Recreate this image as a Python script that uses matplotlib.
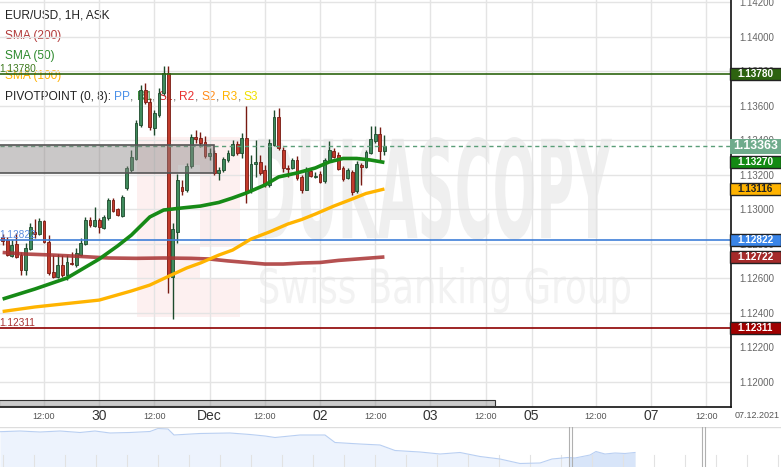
"""EUR/USD 1H candles with SMA(50/100/200), pivot points and navigator."""

import matplotlib

matplotlib.use("Agg")
import matplotlib.pyplot as plt
from matplotlib.font_manager import FontProperties
from matplotlib.patches import PathPatch, Rectangle
from matplotlib.textpath import TextPath
from matplotlib.transforms import Affine2D, blended_transform_factory

plt.rcParams["font.family"] = ["Liberation Sans", "DejaVu Sans"]

# ---------------------------------------------------------------- data
# x = hours since 29 Nov 00:00
hours = list(range(3, 87))
opens = [
    1.12838, 1.12820, 1.12728, 1.12797, 1.12733, 1.12646, 1.12768, 1.12867, 1.12855, 1.12930,
    1.12809, 1.12635, 1.12606, 1.12676, 1.12618, 1.12687, 1.12676, 1.12733, 1.12797, 1.12936,
    1.12901, 1.12936, 1.12890, 1.12948, 1.13052, 1.13000, 1.12959, 1.13122, 1.13226, 1.13290,
    1.13487, 1.13690, 1.13620, 1.13470, 1.13545, 1.13673, 1.13788, 1.12606, 1.12867, 1.13128,
    1.13110, 1.13249, 1.13417, 1.13412, 1.13388, 1.13307, 1.13325, 1.13209, 1.13226, 1.13284,
    1.13313, 1.13377, 1.13325, 1.13412, 1.13110, 1.13261, 1.13273, 1.13226, 1.13139, 1.13371,
    1.13533, 1.13342, 1.13238, 1.13238, 1.13284, 1.13186, 1.13110, 1.13220, 1.13186, 1.13203,
    1.13162, 1.13284, 1.13336, 1.13313, 1.13238, 1.13180, 1.13215, 1.13104, 1.13255, 1.13243,
    1.13325, 1.13394, 1.13435, 1.13336,
]
highs = [
    1.12855, 1.12838, 1.12820, 1.12861, 1.12751, 1.12803, 1.12919, 1.12942, 1.12948, 1.12936,
    1.12849, 1.12733, 1.12739, 1.12733, 1.12733, 1.12751, 1.12774, 1.12832, 1.12954, 1.12954,
    1.13012, 1.12948, 1.12965, 1.13064, 1.13064, 1.13006, 1.13081, 1.13249, 1.13342, 1.13516,
    1.13719, 1.13730, 1.13644, 1.13574, 1.13701, 1.13829, 1.13829, 1.12919, 1.13203, 1.13168,
    1.13267, 1.13435, 1.13458, 1.13446, 1.13423, 1.13354, 1.13342, 1.13243, 1.13301, 1.13342,
    1.13400, 1.13394, 1.13441, 1.13597, 1.13313, 1.13400, 1.13313, 1.13255, 1.13406, 1.13574,
    1.13586, 1.13359, 1.13255, 1.13296, 1.13307, 1.13197, 1.13243, 1.13238, 1.13215, 1.13220,
    1.13296, 1.13394, 1.13354, 1.13330, 1.13249, 1.13238, 1.13226, 1.13278, 1.13267, 1.13342,
    1.13481, 1.13481, 1.13475, 1.13429,
]
lows = [
    1.12791, 1.12728, 1.12722, 1.12716, 1.12618, 1.12618, 1.12762, 1.12832, 1.12849, 1.12803,
    1.12618, 1.12600, 1.12600, 1.12606, 1.12588, 1.12676, 1.12664, 1.12728, 1.12791, 1.12896,
    1.12896, 1.12861, 1.12884, 1.12936, 1.12983, 1.12959, 1.12954, 1.13110, 1.13215, 1.13284,
    1.13475, 1.13609, 1.13458, 1.13429, 1.13533, 1.13661, 1.12513, 1.12362, 1.12803, 1.13081,
    1.13098, 1.13238, 1.13383, 1.13359, 1.13296, 1.13284, 1.13197, 1.13168, 1.13215, 1.13273,
    1.13307, 1.13313, 1.13296, 1.13035, 1.13093, 1.13186, 1.13197, 1.13128, 1.13128, 1.13365,
    1.13342, 1.13215, 1.13186, 1.13232, 1.13168, 1.13093, 1.13110, 1.13186, 1.13180, 1.13151,
    1.13151, 1.13273, 1.13296, 1.13226, 1.13162, 1.13174, 1.13081, 1.13093, 1.13139, 1.13238,
    1.13319, 1.13383, 1.13284, 1.13313,
]
closes = [
    1.12815, 1.12733, 1.12791, 1.12722, 1.12646, 1.12774, 1.12896, 1.12855, 1.12930, 1.12809,
    1.12629, 1.12606, 1.12676, 1.12618, 1.12693, 1.12681, 1.12745, 1.12803, 1.12936, 1.12907,
    1.12936, 1.12896, 1.12954, 1.13052, 1.12988, 1.12965, 1.13069, 1.13238, 1.13301, 1.13499,
    1.13690, 1.13620, 1.13475, 1.13557, 1.13673, 1.13788, 1.12612, 1.12884, 1.13168, 1.13104,
    1.13249, 1.13417, 1.13406, 1.13383, 1.13307, 1.13325, 1.13209, 1.13226, 1.13290, 1.13325,
    1.13377, 1.13325, 1.13412, 1.13098, 1.13261, 1.13273, 1.13209, 1.13139, 1.13383, 1.13533,
    1.13354, 1.13238, 1.13232, 1.13284, 1.13180, 1.13110, 1.13226, 1.13191, 1.13191, 1.13157,
    1.13284, 1.13342, 1.13301, 1.13232, 1.13174, 1.13226, 1.13098, 1.13261, 1.13246, 1.13330,
    1.13406, 1.13435, 1.13336, 1.13363,
]

sma50_h = [3, 10, 17, 24, 28, 31, 35, 38, 42, 46, 50, 53, 56, 60, 63, 67, 71, 74, 77, 80, 83, 86]
sma50 = [1.12478, 1.12536, 1.12600, 1.12710, 1.12786, 1.12849, 1.12954, 1.12994, 1.13006,
         1.13017, 1.13038, 1.13064, 1.13093, 1.13139, 1.13186, 1.13209, 1.13238, 1.13273,
         1.13293, 1.13293, 1.13284, 1.13270]
sma100_h = [3, 10, 17, 24, 31, 35, 39, 43, 46, 50, 53, 57, 61, 65, 68, 71, 75, 79, 82, 86]
sma100 = [1.12406, 1.12432, 1.12452, 1.12472, 1.12525, 1.12559, 1.12609, 1.12658, 1.12687,
          1.12733, 1.12762, 1.12826, 1.12867, 1.12913, 1.12939, 1.12971, 1.13017, 1.13058,
          1.13090, 1.13116]
sma200_h = [3, 8, 14, 20, 26, 32, 38, 44, 48, 52, 56, 60, 64, 68, 72, 76, 80, 83, 86]
sma200 = [1.12748, 1.12739, 1.12733, 1.12725, 1.12716, 1.12714, 1.12716, 1.12714, 1.12710,
          1.12699, 1.12690, 1.12681, 1.12681, 1.12687, 1.12690, 1.12702, 1.12710, 1.12716,
          1.12722]

pivot_r1 = 1.13780
pivot_pp = 1.12822
pivot_s1 = 1.12311
last_price = 1.13363
zone_top, zone_bottom, zone_end = 1.13373, 1.13211, 49.0

y_ticks = [1.120, 1.122, 1.124, 1.126, 1.128, 1.130, 1.132, 1.134, 1.136, 1.138, 1.140, 1.142]
x_tick_hours = [12, 24, 36, 48, 60, 72, 84, 96, 108, 118, 132, 144, 156]
x_tick_labels = ["12:00", "30", "12:00", "Dec", "12:00", "02", "12:00", "03", "12:00",
                 "05", "12:00", "07", "12:00"]

# navigator: long history of closes
nav_t = [0, 20, 40, 60, 80, 95, 110, 130, 150, 158, 168, 174, 200, 230, 250, 265, 275, 300,
         325, 335, 360, 380, 395, 420, 440, 460, 480, 500, 520, 540, 552, 568, 575, 590, 596,
         605, 615, 625, 635]
nav_close = [1.15860, 1.15940, 1.15825, 1.15940, 1.15768, 1.15940, 1.15710, 1.15768, 1.15883,
             1.16228, 1.16170, 1.15480, 1.15653, 1.15710, 1.15538, 1.15365, 1.15193, 1.15480,
             1.15480, 1.14618, 1.14445, 1.14330, 1.13698, 1.13525, 1.13295, 1.13468, 1.13008,
             1.12720, 1.12203, 1.12260, 1.12720, 1.12893, 1.12835, 1.13180, 1.13583, 1.13295,
             1.13410, 1.13353, 1.13468]

# ---------------------------------------------------------------- layout
W, H = 781, 467
AX_W, AX_H = 731, 406.7
X0, PX_PER_H = 2.43, 4.6
Y_TOP = 1.142116
Y_PER_PX = 0.00005797

GREEN_BODY, GREEN_EDGE = "#3f8a5c", "#1d4a2c"
RED_BODY, RED_EDGE = "#c23b2c", "#781a12"

fig = plt.figure(figsize=(W / 100, H / 100), dpi=100)

# underlay for watermark and legend (pixel coordinates, y downwards)
bg = fig.add_axes([0, 0, 1, 1], zorder=0)
bg.set_xlim(0, W)
bg.set_ylim(H, 0)
bg.axis("off")


def fitted_text(axis, s, x0, y0, x1, y1, color, weight="bold"):
    fp = FontProperties(family="DejaVu Sans", weight=weight)
    tp = TextPath((0, 0), s, size=100, prop=fp)
    bb = tp.get_extents()
    tr = (Affine2D().translate(-bb.x0, -bb.y0)
          .scale((x1 - x0) / bb.width, -(y1 - y0) / bb.height)
          .translate(x0, y1))
    axis.add_patch(PathPatch(tr.transform_path(tp), fc=color, ec="none"))


bg.add_patch(Rectangle((137, 137), 103, 180, fc="#fdf0f0", ec="none"))
bg.add_patch(Rectangle((178, 165), 22, 80, fc="white", ec="none"))
bg.add_patch(Rectangle((200, 247), 40, 32, fc="white", ec="none"))
fitted_text(bg, "DUKASCOPY", 258, 137, 612, 240, "#efefef")
fitted_text(bg, "Swiss Banking Group", 260, 267, 630, 313, "#f2f2f2", weight="normal")

legend_rows = [
    (19, [("EUR/USD, 1H, ASK", "#222")]),
    (39, [("SMA (200)", "#b23a3a")]),
    (59, [("SMA (50)", "#2d8a2d")]),
    (79.5, [("SMA (100)", "#ffb000")]),
    (100, [("PIVOTPOINT (0, 8): ", "#222"), ("PP", "#4a90e8"), (", ", "#666"),
           ("R1", "#3c8c3c"), (", ", "#666"), ("S1", "#cc2222"), (", ", "#666"),
           ("R2", "#e83030"), (", ", "#666"), ("S2", "#ff8c1a"), (", ", "#666"),
           ("R3", "#ffb400"), (", ", "#666"), ("S3", "#f0e000")]),
]
renderer = fig.canvas.get_renderer()
for ybase, pieces in legend_rows:
    x = 5
    for s, col in pieces:
        t = bg.text(x, ybase, s, ha="left", va="baseline", fontsize=8.6, color=col)
        x += t.get_window_extent(renderer).width

# main price axes
ax = fig.add_axes([0, (H - AX_H) / H, AX_W / W, AX_H / H], zorder=1)
ax.patch.set_alpha(0)
ax.set_xlim(X0, X0 + AX_W / PX_PER_H)
ax.set_ylim(Y_TOP - AX_H * Y_PER_PX, Y_TOP)
ax.set_axisbelow(True)
ax.grid(True, color="#e4e4e4", lw=1)
ax.set_xticks(x_tick_hours)
ax.set_xticklabels([])
ax.set_yticks(y_ticks)
ax.set_yticklabels([f"{v:.5f}" for v in y_ticks])
ax.yaxis.tick_right()
ax.tick_params(axis="both", length=0)
ax.tick_params(axis="y", labelsize=7, labelcolor="#666", pad=6)
for side in ("left", "top"):
    ax.spines[side].set_visible(False)
for side in ("right", "bottom"):
    ax.spines[side].set_color("#111")
    ax.spines[side].set_linewidth(1.2)

# candles
ups = [c >= o for o, c in zip(opens, closes)]
edge_cols = [GREEN_EDGE if u else RED_EDGE for u in ups]
body_cols = [GREEN_BODY if u else RED_BODY for u in ups]
ax.vlines(hours, lows, highs, colors=edge_cols, lw=1, zorder=2)
ax.bar(hours, [max(abs(c - o), 0.00002) for o, c in zip(opens, closes)],
       bottom=[min(o, c) for o, c in zip(opens, closes)], width=0.62,
       color=body_cols, edgecolor=edge_cols, lw=0.6, zorder=2.2)

# moving averages
ax.plot(sma200_h, sma200, color="#a83232", lw=2.6, alpha=0.85, zorder=3,
        solid_capstyle="butt")
ax.plot(sma100_h, sma100, color="#ffb400", lw=2.4, zorder=3, solid_capstyle="butt")
ax.plot(sma50_h, sma50, color="#168a16", lw=2.6, zorder=3, solid_capstyle="butt")

# pivot levels and last price
ax.axhline(pivot_r1, color="#2e6510", lw=1.2, zorder=2.5)
ax.axhline(pivot_pp, color="#3f7fd8", lw=1.2, zorder=2.5)
ax.axhline(pivot_s1, color="#8e0000", lw=1.2, zorder=2.5)
ax.axhline(last_price, color="#5a9e78", lw=1, ls=(0, (3, 2.5)), zorder=2.5)

# grey zone
ax.add_patch(Rectangle((X0 - 2, zone_bottom), zone_end - X0 + 2, zone_top - zone_bottom,
                       fc=(0.54, 0.52, 0.52, 0.45), ec="#555", lw=1.2, zorder=2.6))

# price labels on the right axis
blend = blended_transform_factory(ax.transAxes, ax.transData)
price_tags = [
    (pivot_r1, "#2d6310", "white", 12, 7.2),
    (last_price, "#6fab8c", "white", 15, 8.8),
    (sma50[-1], "#138a13", "white", 12, 7.2),
    (sma100[-1], "#ffb300", "#222", 12, 7.2),
    (pivot_pp, "#3a85e8", "white", 12, 7.2),
    (sma200[-1], "#a52a2a", "white", 12, 7.2),
    (pivot_s1, "#a00000", "white", 12, 7.2),
]
for val, fc, tc, hpx, fs in price_tags:
    ec = "none" if val == last_price else "#222"
    ax.add_patch(Rectangle((730 / AX_W, val - hpx * Y_PER_PX / 2), 50.5 / AX_W,
                           hpx * Y_PER_PX, transform=blend, fc=fc, ec=ec, lw=1,
                           clip_on=False, zorder=5))
    ax.text(755.5 / AX_W, val, f"{val:.5f}", transform=blend, ha="center", va="center",
            color=tc, fontsize=fs, fontweight="bold", clip_on=False, zorder=6)

# left-side pivot values
for val, col in ((pivot_r1, "#3d7a1e"), (pivot_pp, "#5b8fe0"), (pivot_s1, "#a83030")):
    ax.text(-1 / AX_W, val + 5 * Y_PER_PX, f"{val:.5f}", transform=blend, ha="left",
            va="center", color=col, fontsize=7.3, zorder=4)

# x labels
xblend = blended_transform_factory(ax.transData, ax.transAxes)
for h, lab in zip(x_tick_hours, x_tick_labels):
    big = lab != "12:00"
    ax.text(h, -9.5 / AX_H, lab, transform=xblend, ha="center", va="center",
            fontsize=10 if big else 6.5, color="#333" if big else "#555", clip_on=False)

# overlay (pixel coordinates) for scrollbar and date
ov = fig.add_axes([0, 0, 1, 1], zorder=3)
ov.set_xlim(0, W)
ov.set_ylim(H, 0)
ov.axis("off")
ov.patch.set_alpha(0)

ov.add_patch(Rectangle((-1, 399.5), 496, 6.5, fc=(0.55, 0.55, 0.55, 0.45), ec="#333", lw=0.8))
ov.text(757, 416, "07.12.2021", ha="center", va="center", fontsize=6.5, color="#555")

# navigator
nav = fig.add_axes([0, 0, 1, 40 / H], zorder=2)
nav.set_xlim(0, W)
nav.set_ylim(1.118, 1.164)
nav.axis("off")
for gx in range(3, 780, 31):
    nav.axvline(gx, ymin=0, ymax=0.3, color="#e2e2e2", lw=0.8)
nav.fill_between(nav_t, nav_close, 1.118, color="#edf3fd", lw=0)
nav.plot(nav_t, nav_close, color="#b9cff2", lw=0.8)
dark = nav.fill_between(nav_t, nav_close, 1.118, color="#d8e5f9", lw=0)
dark.set_clip_path(Rectangle((570, 1.118), 133, 0.05, transform=nav.transData))
nav.axhline(1.164, color="#dddddd", lw=1)
for hx in (568.5, 571.5, 702, 705):
    nav.axvline(hx, color="#b0b0b0", lw=0.8)

fig.savefig("out.png", dpi=100)
